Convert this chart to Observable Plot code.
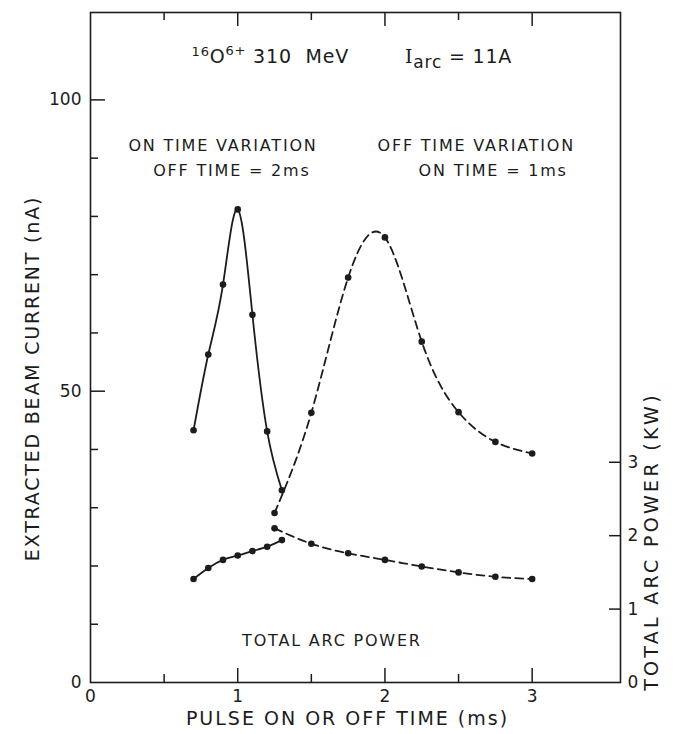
<!DOCTYPE html>
<html><head><meta charset="utf-8">
<script src="https://cdn.jsdelivr.net/npm/d3@7"></script>
<script src="https://cdn.jsdelivr.net/npm/@observablehq/plot@0.6"></script>
<style>
body{margin:0;background:#fff;}
#chart svg{display:block;}
</style></head><body><div id="chart"></div>
<script>
// ---- data ----
const onTime   = [0.7, 0.8, 0.9, 1.0, 1.1, 1.2, 1.3];          // ms (on time varied, off = 2 ms)
const onBeam   = [43.3, 56.3, 68.3, 81.2, 63.1, 43.1, 33.0];   // nA
const onPower  = [1.41, 1.56, 1.67, 1.73, 1.79, 1.85, 1.94];   // kW
const offTime  = [1.25, 1.5, 1.75, 2.0, 2.25, 2.5, 2.75, 3.0]; // ms (off time varied, on = 1 ms)
const offBeam  = [29.1, 46.3, 69.5, 76.4, 58.5, 46.4, 41.3, 39.3];
const offPower = [2.10, 1.89, 1.76, 1.67, 1.58, 1.50, 1.44, 1.41];
const xTicks = [0, 1, 2, 3];
const xMinor = [0.5, 1.5, 2.5];
const yTicks = [0, 50, 100];
const yMinor = [10, 20, 30, 40, 60, 70, 80, 90];
const powerTicks = [0, 1, 2, 3];
const nAperkW = 12.6;   // right axis: 1 kW corresponds to this many nA on the left scale

const ink = "#1c1c1c";
const W = 682, H = 734, mL = 90, mR = 62, mT = 12, mB = 52;
const innerW = W - mL - mR, innerH = H - mT - mB;

const onRows  = onTime.map((t, i) => ({t, beam: onBeam[i], power: onPower[i] * nAperkW}));
const offRows = offTime.map((t, i) => ({t, beam: offBeam[i], power: offPower[i] * nAperkW}));

const lab = {fill: ink, fontSize: 16, lineAnchor: "bottom", textAnchor: "middle", ariaDescription: "annot"};
const plot = Plot.plot({
  width: W, height: H,
  marginLeft: mL, marginRight: mR, marginTop: mT, marginBottom: mB,
  style: {fontFamily: "'DejaVu Sans', sans-serif", fontSize: "17px", color: ink, background: "#fff"},
  x: {domain: [0, 3.6], axis: null, label: null},
  y: {domain: [0, 115], axis: null, label: null},
  marks: [
    Plot.frame({stroke: ink, strokeWidth: 1.6}),
    // inward ticks: bottom
    Plot.tickX(xTicks.slice(1), {x: d => d, insetTop: innerH - 14, stroke: ink, strokeWidth: 1.5}),
    Plot.tickX(xMinor, {x: d => d, insetTop: innerH - 8, stroke: ink, strokeWidth: 1.5}),
    // top
    Plot.tickX(xTicks.slice(1), {x: d => d, insetBottom: innerH - 14, stroke: ink, strokeWidth: 1.5}),
    Plot.tickX(xMinor, {x: d => d, insetBottom: innerH - 8, stroke: ink, strokeWidth: 1.5}),
    // left
    Plot.tickY(yTicks.slice(1), {y: d => d, insetRight: innerW - 15, stroke: ink, strokeWidth: 1.5}),
    Plot.tickY(yMinor, {y: d => d, insetRight: innerW - 8, stroke: ink, strokeWidth: 1.5}),
    // right (power)
    Plot.tickY(powerTicks.slice(1), {y: d => d * nAperkW, insetLeft: innerW - 11, stroke: ink, strokeWidth: 1.5}),
    // tick labels
    Plot.axisX({ticks: xTicks, tickFormat: d => String(d), tickSize: 0, tickPadding: 7, fill: ink, label: null}),
    Plot.axisY({ticks: yTicks, tickFormat: d => String(d), tickSize: 0, tickPadding: 9, fill: ink, label: null}),
    Plot.axisY({anchor: "right", ticks: powerTicks.map(k => k * nAperkW), tickFormat: d => String(Math.round(d / nAperkW)), tickSize: 0, tickPadding: 7, fill: ink, label: null}),
    // axis titles
    Plot.text(["EXTRACTED BEAM CURRENT (nA)"], {frameAnchor: "left", textAnchor: "middle", dx: -58, dy: 31, rotate: -90, fill: ink, fontSize: 19, ariaDescription: "ytitle"}),
    Plot.text(["PULSE ON OR OFF TIME (ms)"], {frameAnchor: "bottom", textAnchor: "middle", dx: -8, dy: 42, fill: ink, fontSize: 19, ariaDescription: "xtitle"}),
    Plot.text(["TOTAL ARC POWER (KW)"], {frameAnchor: "right", textAnchor: "middle", dx: 31, dy: 194, rotate: -90, fill: ink, fontSize: 19, ariaDescription: "rtitle"}),
    // curves
    Plot.line(onRows,  {x: "t", y: "beam",  curve: "natural", stroke: ink, strokeWidth: 1.8}),
    Plot.line(offRows, {x: "t", y: "beam",  curve: "natural", stroke: ink, strokeWidth: 1.8, strokeDasharray: "8,5"}),
    Plot.line(onRows,  {x: "t", y: "power", curve: "natural", stroke: ink, strokeWidth: 1.8}),
    Plot.line(offRows, {x: "t", y: "power", curve: "natural", stroke: ink, strokeWidth: 1.8, strokeDasharray: "8,5"}),
    Plot.dot(onRows,  {x: "t", y: "beam",  r: 3.3, fill: ink}),
    Plot.dot(offRows, {x: "t", y: "beam",  r: 3.3, fill: ink}),
    Plot.dot(onRows,  {x: "t", y: "power", r: 3.3, fill: ink}),
    Plot.dot(offRows, {x: "t", y: "power", r: 3.3, fill: ink}),
    // annotations
    Plot.text(["ON TIME VARIATION"],  {x: 0.90, y: 91.3, ...lab}),
    Plot.text(["OFF TIME = 2ms"],     {x: 0.96, y: 87.0, ...lab}),
    Plot.text(["OFF TIME VARIATION"], {x: 2.62, y: 91.3, ...lab}),
    Plot.text(["ON TIME = 1ms"],      {x: 2.735, y: 87.0, ...lab}),
    Plot.text(["TOTAL ARC POWER"],    {x: 1.64, y: 6.3, ...lab})
  ]
});

const svg = d3.select(plot);
const spacing = {annot: "1.8px", ytitle: "1.8px", xtitle: "2px", rtitle: "3.3px"};
for (const [k, v] of Object.entries(spacing)) svg.selectAll(`g[aria-description='${k}'] text`).style("letter-spacing", v);

// heading with super/subscripts, placed through the plot's scales
const sx = plot.scale("x"), sy = plot.scale("y");
function rich(parts, xv, yv) {
  const t = svg.append("text")
    .attr("x", sx.apply(xv)).attr("y", sy.apply(yv))
    .attr("text-anchor", "start")
    .attr("fill", ink).style("font-size", "19px").style("letter-spacing", "0.8px");
  for (const p of parts) {
    const s = t.append("tspan").text(p.s);
    if (p.dy) s.attr("dy", p.dy);
    if (p.size) s.style("font-size", p.size + "px");
    if (p.font) s.style("font-family", p.font);
  }
}
rich([{s: "16", size: 13, dy: -7}, {s: "O", dy: 7}, {s: "6+", size: 13, dy: -8}, {s: " 310  MeV", dy: 8}], 0.69, 106.2);
rich([{s: "I", font: "'DejaVu Serif', serif"}, {s: "arc", size: 17, dy: 5}, {s: " = 11A", dy: -5}], 2.14, 106.2);

document.getElementById("chart").append(plot);
</script></body></html>
